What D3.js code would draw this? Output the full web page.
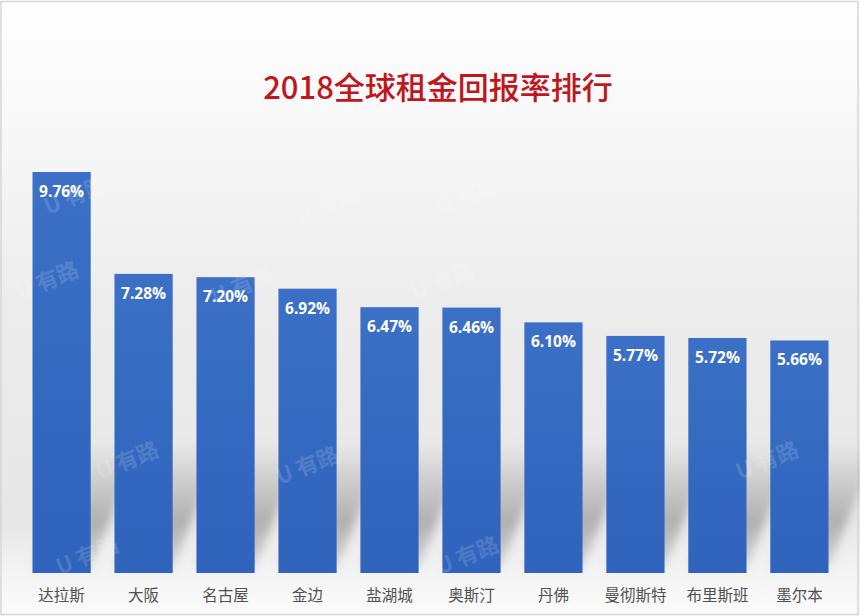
<!DOCTYPE html>
<html>
<head>
<meta charset="utf-8">
<script src="https://cdn.jsdelivr.net/npm/d3@7"></script>
<style>
  body { margin: 0; background: #fff; }
  svg { display: block; }
</style>
</head>
<body>
<svg width="860" height="616"></svg>
<script>
// chart data
const cities = ["达拉斯", "大阪", "名古屋", "金边", "盐湖城", "奥斯汀", "丹佛", "曼彻斯特", "布里斯班", "墨尔本"];
const rentYield = [9.76, 7.28, 7.20, 6.92, 6.47, 6.46, 6.10, 5.77, 5.72, 5.66];
const title = "2018全球租金回报率排行";

const svg = d3.select("svg");
const width = +svg.attr("width");
const height = +svg.attr("height");
const baseY = 573;

const defs = svg.append("defs");

// background gradient, white on top, grey in the middle, white again at the floor
const bg = defs.append("linearGradient").attr("id", "bg")
    .attr("x1", 0).attr("y1", 0).attr("x2", 0).attr("y2", 1);
[[0, "#ffffff"], [0.2, "#f8f8f8"], [0.5, "#ececec"], [0.85, "#e7e7e7"], [0.93, "#f4f4f4"], [1, "#fbfbfb"]]
    .forEach(d => bg.append("stop").attr("offset", d[0]).attr("stop-color", d[1]));

const barGrad = defs.append("linearGradient").attr("id", "barGrad")
    .attr("x1", 0).attr("y1", 0).attr("x2", 0).attr("y2", 1);
barGrad.append("stop").attr("offset", 0).attr("stop-color", "#3b70c6");
barGrad.append("stop").attr("offset", 1).attr("stop-color", "#2f63bc");

// shadow fades out going up
const shadowGrad = defs.append("linearGradient").attr("id", "shadowGrad")
    .attr("gradientUnits", "userSpaceOnUse")
    .attr("x1", 0).attr("y1", baseY).attr("x2", 0).attr("y2", baseY - 130);
shadowGrad.append("stop").attr("offset", 0).attr("stop-color", "#8c8c8c").attr("stop-opacity", 0.25);
shadowGrad.append("stop").attr("offset", 0.4).attr("stop-color", "#8c8c8c").attr("stop-opacity", 0.6);
shadowGrad.append("stop").attr("offset", 1).attr("stop-color", "#8c8c8c").attr("stop-opacity", 0);

defs.append("filter").attr("id", "blur")
    .attr("x", "-50%").attr("y", "-50%").attr("width", "200%").attr("height", "200%")
    .append("feGaussianBlur").attr("stdDeviation", 5);

svg.append("rect")
    .attr("x", 0).attr("y", 0)
    .attr("width", width).attr("height", height)
    .attr("fill", "url(#bg)");

// thin frame
svg.append("rect")
    .attr("x", 1).attr("y", 1.5)
    .attr("width", width - 3).attr("height", height - 3)
    .attr("fill", "none")
    .attr("stroke", "#d6d6d6")
    .attr("stroke-width", 1.5);

// scales
const x = d3.scaleBand()
    .domain(cities)
    .range([32.5, 828.5])
    .paddingInner(0.29)
    .paddingOuter(0);

const y = d3.scaleLinear()
    .domain([0, 9.76])
    .range([baseY, 172]);

// floor shadows cast to the right of each bar
svg.append("g").attr("class", "shadows")
    .selectAll("path")
    .data(cities)
    .enter().append("path")
    .attr("d", d => {
        const l = x(d), r = x(d) + x.bandwidth();
        return `M${l},${baseY - 5} L${r},${baseY - 5} L${r + 50},${baseY - 130} L${l + 50},${baseY - 130} Z`;
    })
    .attr("fill", "url(#shadowGrad)")
    .attr("filter", "url(#blur)");

// bars
svg.append("g").attr("class", "bars")
    .selectAll("rect")
    .data(rentYield)
    .enter().append("rect")
    .attr("x", (d, i) => x(cities[i]))
    .attr("y", d => y(d))
    .attr("width", x.bandwidth())
    .attr("height", d => baseY - y(d))
    .attr("fill", "url(#barGrad)");

// faint watermarks
const marks = [[48, 215], [20, 300], [215, 305], [300, 225], [415, 300], [440, 215], [100, 480], [280, 485], [740, 480], [60, 575], [440, 575]];
svg.append("g").attr("class", "watermarks")
    .selectAll("text")
    .data(marks)
    .enter().append("text")
    .attr("transform", d => `translate(${d[0]},${d[1]}) rotate(-22)`)
    .attr("font-family", "Noto Sans CJK SC")
    .attr("font-size", 22)
    .attr("font-weight", 700)
    .attr("fill", "#ffffff")
    .attr("opacity", 0.14)
    .text("U 有路");

// value labels
svg.append("g").attr("class", "values")
    .selectAll("text")
    .data(rentYield)
    .enter().append("text")
    .attr("x", (d, i) => x(cities[i]) + x.bandwidth() / 2)
    .attr("y", d => y(d) + 25)
    .attr("text-anchor", "middle")
    .attr("font-family", "Open Sans")
    .attr("font-weight", 700)
    .attr("font-size", 15.5)
    .attr("fill", "#ffffff")
    .text(d => d.toFixed(2) + "%");

// category labels
svg.append("g").attr("class", "categories")
    .selectAll("text")
    .data(cities)
    .enter().append("text")
    .attr("x", d => x(d) + x.bandwidth() / 2)
    .attr("y", 601)
    .attr("text-anchor", "middle")
    .attr("font-family", "Noto Sans CJK SC")
    .attr("font-size", 15.5)
    .attr("fill", "#505050")
    .text(d => d);

// title
svg.append("text")
    .attr("x", 438)
    .attr("y", 99)
    .attr("text-anchor", "middle")
    .attr("font-family", "Noto Sans CJK SC")
    .attr("font-weight", 500)
    .attr("font-size", 31)
    .attr("fill", "#c0161d")
    .text(title);
</script>
</body>
</html>
